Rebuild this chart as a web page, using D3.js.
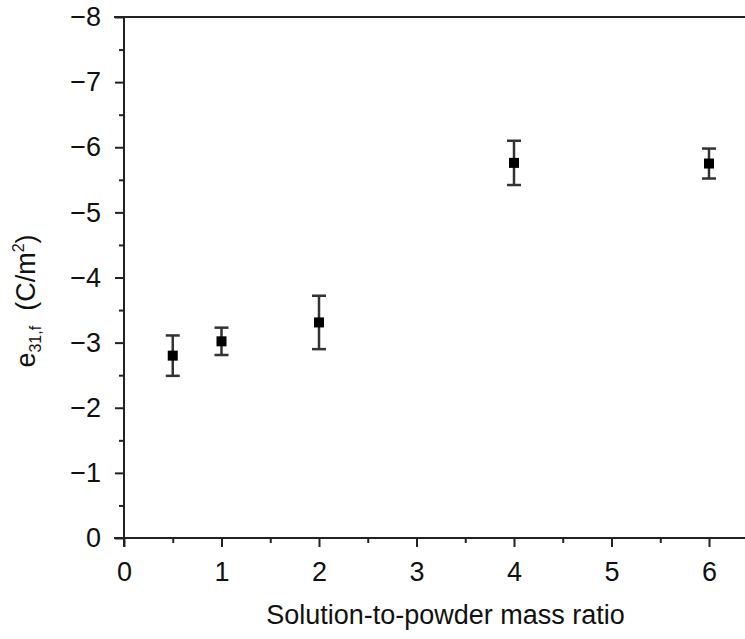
<!DOCTYPE html>
<html>
<head>
<meta charset="utf-8">
<script src="https://cdn.jsdelivr.net/npm/d3@7"></script>
<style>
  body { margin: 0; background: #fff; }
  svg { display: block; }
  text { font-family: "Liberation Sans", Arial, sans-serif; fill: #111; }
</style>
</head>
<body>
<svg id="chart" width="745" height="639"></svg>
<script>
// ---- data ----
const ratios = [0.5, 1, 2, 4, 6];
const e31f = [-2.80, -3.02, -3.31, -5.76, -5.75];
const errors = [0.31, 0.21, 0.41, 0.34, 0.23];
const xTicks = [0, 1, 2, 3, 4, 5, 6];
const yTicks = [0, -1, -2, -3, -4, -5, -6, -7, -8];
const xLabel = "Solution-to-powder mass ratio";

const svg = d3.select("#chart");
const x = d3.scaleLinear().domain([0, 6.4]).range([124, 748]);
const y = d3.scaleLinear().domain([0, -8]).range([538, 17]);

const fmt = d3.format("d");
const axisColor = "#222";

// axis lines
svg.append("line").attr("x1", 114).attr("x2", 748).attr("y1", y(0)).attr("y2", y(0))
  .attr("stroke", axisColor).attr("stroke-width", 2);
svg.append("line").attr("x1", 114).attr("x2", 748).attr("y1", y(-8)).attr("y2", y(-8))
  .attr("stroke", axisColor).attr("stroke-width", 2);
svg.append("line").attr("x1", x(0)).attr("x2", x(0)).attr("y1", y(-8)).attr("y2", y(0) + 9)
  .attr("stroke", axisColor).attr("stroke-width", 2);

// y axis ticks
const yAxis = d3.axisLeft(y).tickValues(yTicks).tickSize(9).tickFormat(fmt).tickPadding(14);
const gy = svg.append("g").attr("transform", `translate(${x(0)},0)`).call(yAxis);
gy.select(".domain").remove();
gy.selectAll(".tick line").attr("stroke", axisColor).attr("stroke-width", 2);
gy.selectAll(".tick text").attr("font-size", 27).attr("fill", "#111")
  .attr("font-family", "Liberation Sans, Arial, sans-serif");
const yMinor = d3.axisLeft(y).tickValues(d3.range(-0.5, -8, -1)).tickSize(5).tickFormat("");
const gym = svg.append("g").attr("transform", `translate(${x(0)},0)`).call(yMinor);
gym.select(".domain").remove();
gym.selectAll(".tick line").attr("stroke", axisColor).attr("stroke-width", 2);

// x axis ticks
const xAxis = d3.axisBottom(x).tickValues(xTicks).tickSize(9).tickFormat(fmt).tickPadding(15);
const gx = svg.append("g").attr("transform", `translate(0,${y(0)})`).call(xAxis);
gx.select(".domain").remove();
gx.selectAll(".tick line").attr("stroke", axisColor).attr("stroke-width", 2);
gx.selectAll(".tick text").attr("font-size", 27).attr("fill", "#111")
  .attr("font-family", "Liberation Sans, Arial, sans-serif");
const xMinor = d3.axisBottom(x).tickValues(d3.range(0.5, 6.4, 1)).tickSize(5).tickFormat("");
const gxm = svg.append("g").attr("transform", `translate(0,${y(0)})`).call(xMinor);
gxm.select(".domain").remove();
gxm.selectAll(".tick line").attr("stroke", axisColor).attr("stroke-width", 2);

// error bars and markers
const pts = ratios.map((r, i) => ({ r, v: e31f[i], e: errors[i] }));
const cap = 7;
const eb = svg.append("g").attr("stroke", "#333").attr("stroke-width", 2.5);
pts.forEach(d => {
  eb.append("line").attr("x1", x(d.r)).attr("x2", x(d.r))
    .attr("y1", y(d.v - d.e)).attr("y2", y(d.v + d.e));
  eb.append("line").attr("x1", x(d.r) - cap).attr("x2", x(d.r) + cap)
    .attr("y1", y(d.v - d.e)).attr("y2", y(d.v - d.e));
  eb.append("line").attr("x1", x(d.r) - cap).attr("x2", x(d.r) + cap)
    .attr("y1", y(d.v + d.e)).attr("y2", y(d.v + d.e));
});
svg.append("g").selectAll("rect").data(pts).join("rect")
  .attr("x", d => x(d.r) - 5).attr("y", d => y(d.v) - 5)
  .attr("width", 10).attr("height", 10).attr("fill", "#000");

// x label
svg.append("text").attr("x", (258 + 633) / 2).attr("y", 624)
  .attr("text-anchor", "middle").attr("font-size", 27).text(xLabel);

// y label
const yl = svg.append("text").attr("transform", "translate(35,301) rotate(-90)")
  .attr("text-anchor", "middle").attr("font-size", 27);
yl.append("tspan").text("e");
yl.append("tspan").attr("font-size", 16).attr("dy", 6).text("31,f");
yl.append("tspan").attr("dy", -6).text("\u00a0 (C/m");
yl.append("tspan").attr("font-size", 16).attr("dy", -11).text("2");
yl.append("tspan").attr("dy", 11).text(")");
</script>
</body>
</html>
